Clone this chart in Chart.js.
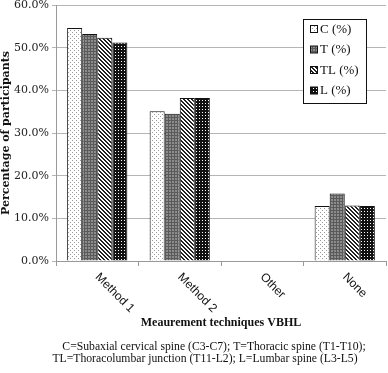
<!DOCTYPE html>
<html>
<head>
<meta charset="utf-8">
<script src="https://cdn.jsdelivr.net/npm/chart.js@4/dist/chart.umd.min.js"></script>
<style>
  html, body { margin: 0; padding: 0; background: #fff; }
  #wrap { width: 388px; height: 373px; position: relative; }
</style>
</head>
<body>
<div id="wrap"><canvas id="vbhlChart"></canvas></div>
<script>
const categories = ["Method 1", "Method 2", "Other", "None"];
const seriesNames = ["C (%)", "T (%)", "TL (%)", "L (%)"];
const cValues = [54.6, 35.1, 0, 12.9];
const tValues = [53.2, 34.5, 0, 15.8];
const tlValues = [52.3, 38.2, 0, 13.0];
const lValues = [51.2, 38.2, 0, 12.9];
const captionLines = [
  "C=Subaxial cervical spine (C3-C7); T=Thoracic spine (T1-T10);",
  "TL=Thoracolumbar junction (T11-L2); L=Lumbar spine (L3-L5)"
];

// small tiled fills that look like the old office hatch patterns
function makePattern(bg, fg, pixels, size) {
  const c = document.createElement("canvas");
  c.width = size; c.height = size;
  const g = c.getContext("2d");
  g.fillStyle = bg;
  g.fillRect(0, 0, size, size);
  g.fillStyle = fg;
  pixels.forEach(([x, y]) => g.fillRect(x, y, 1, 1));
  return g.createPattern(c, "repeat");
}

const ctx = document.getElementById("vbhlChart").getContext("2d");

const fills = [
  makePattern("#ffffff", "#9a9a9a", [[0, 0], [2, 2]], 4),
  makePattern("#8c8c8c", "#5a5a5a", [[0, 0], [1, 0], [2, 0], [0, 1], [0, 2]], 3),
  makePattern("#ffffff", "#222222", [[0, 0], [1, 1], [2, 2], [3, 3], [1, 0], [2, 1], [3, 2], [0, 3]], 4),
  makePattern("#111111", "#ffffff", [[1, 1]], 3)
];
const valueSets = [cValues, tValues, tlValues, lValues];

const bottomText = {
  id: "bottomText",
  afterDraw(chart) {
    const g = chart.ctx;
    const x = chart.scales.x;
    const area = chart.chartArea;
    g.save();
    g.fillStyle = "#111";

    // rotated category labels
    g.font = "12px 'Liberation Sans'";
    g.textAlign = "left";
    g.textBaseline = "top";
    categories.forEach((label, i) => {
      const px = x.getPixelForValue(i);
      g.save();
      g.translate(px + 4, area.bottom + 10);
      g.rotate(Math.PI / 4);
      g.fillText(label, 0, 0);
      g.restore();
    });

    const mid = (area.left + area.right) / 2;
    g.textAlign = "center";
    g.textBaseline = "middle";
    g.font = "bold 12px 'Liberation Serif'";
    g.fillText("Meaurement techniques VBHL", mid, 323);
    g.font = "11.7px 'Liberation Serif'";
    g.fillText(captionLines[0], 214, 347);
    g.fillText(captionLines[1], 205, 359);

    // legend box inside the plot
    const bx = 303, by = 19, bw = 63, bh = 84;
    g.fillStyle = "#fff";
    g.fillRect(bx, by, bw, bh);
    g.strokeStyle = "#111";
    g.lineWidth = 1;
    g.strokeRect(bx + 0.5, by + 0.5, bw, bh);
    g.textAlign = "left";
    g.font = "13px 'Liberation Serif'";
    seriesNames.forEach((name, i) => {
      const y = 29 + i * 20.5;
      g.fillStyle = fills[i];
      g.fillRect(310, y - 3.5, 7, 7);
      g.strokeStyle = "#111";
      g.strokeRect(310.5, y - 3.5, 7, 7);
      g.fillStyle = "#111";
      g.fillText(name, 320, y + 0.5);
    });
    g.restore();
  }
};

new Chart(ctx, {
  type: "bar",
  data: {
    labels: categories,
    datasets: seriesNames.map((name, i) => ({
      label: name,
      data: valueSets[i],
      backgroundColor: fills[i],
      borderColor: "#111",
      borderWidth: 1,
      borderSkipped: "bottom"
    }))
  },
  options: {
    responsive: true,
    maintainAspectRatio: false,
    animation: false,
    layout: { padding: { top: 0, right: 2, left: 0, bottom: 0 } },
    categoryPercentage: 0.73,
    barPercentage: 1.0,
    plugins: {
      legend: { display: false },
      tooltip: { enabled: false }
    },
    scales: {
      x: {
        grid: { drawOnChartArea: false, drawTicks: true, tickLength: 5, offset: true, color: "#999" },
        border: { color: "#999" },
        ticks: { display: false },
        afterFit: (s) => { s.height = 112; }
      },
      y: {
        min: 0,
        max: 60,
        ticks: {
          stepSize: 10,
          padding: 3,
          color: "#222",
          font: { family: "'DejaVu Serif'", size: 11 },
          callback: (v) => v.toFixed(1) + "%"
        },
        grid: { color: "#b5b5b5", tickLength: 4 },
        border: { color: "#999" },
        title: {
          display: true,
          text: "Percentage of participants",
          color: "#111",
          font: { family: "'DejaVu Serif'", size: 11, weight: "bold" },
          padding: { top: 0, bottom: 2 }
        },
        afterFit: (s) => { s.width = 56; s.paddingTop = 5; }
      }
    }
  },
  plugins: [bottomText]
});
</script>
</body>
</html>
